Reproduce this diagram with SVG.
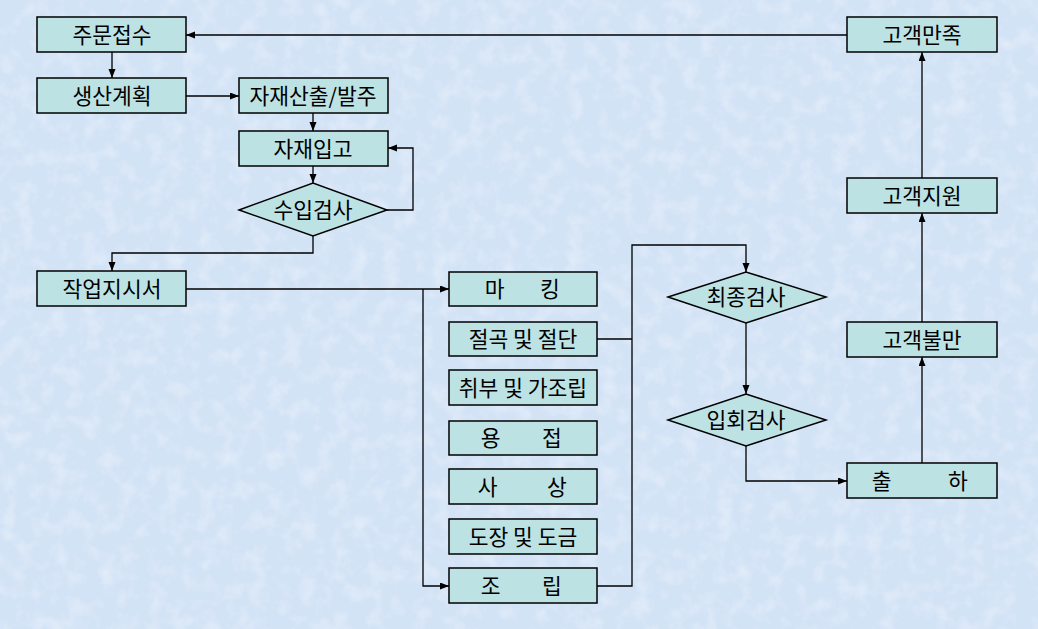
<svg xmlns="http://www.w3.org/2000/svg" width="1038" height="629" viewBox="0 0 1038 629">
<defs>
<style>
.bx{fill:#bce2e3;stroke:#000;stroke-width:1.5}
.t{font-family:"Noto Sans CJK KR","Noto Sans",sans-serif;font-size:21.5px;fill:#000;text-anchor:middle}
.c{fill:none;stroke:#000;stroke-width:1.3}
</style>
<marker id="ah" markerUnits="userSpaceOnUse" markerWidth="10" markerHeight="8" refX="9" refY="3.5" orient="auto">
<path d="M0,0 L9,3.5 L0,7 z" fill="#000"/>
</marker>
<filter id="tex" x="0" y="0" width="100%" height="100%">
<feTurbulence type="fractalNoise" baseFrequency="0.06" numOctaves="3" seed="4"/>
<feColorMatrix type="matrix" values="0 0 0 0 1  0 0 0 0 1  0 0 0 0 1  0 0 0 1.2 -0.55"/>
</filter>
</defs>
<rect width="1038" height="629" fill="#d3e3f6"/>
<rect width="1038" height="629" filter="url(#tex)" opacity="0.6"/>

<g id="connectors" class="c">
<path d="M847,35 H186" marker-end="url(#ah)"/>
<path d="M112,52 V78" marker-end="url(#ah)"/>
<path d="M186,96 H239" marker-end="url(#ah)"/>
<path d="M313,113 V131" marker-end="url(#ah)"/>
<path d="M313,166 V183" marker-end="url(#ah)"/>
<path d="M387,210 H413 V148 H388" marker-end="url(#ah)"/>
<path d="M313,236 V253 H112 V271" marker-end="url(#ah)"/>
<path d="M186,289 H449" marker-end="url(#ah)"/>
<path d="M423,289 V586 H449" marker-end="url(#ah)"/>
<path d="M597,339 H632"/>
<path d="M597,586 H632 V245 H746 V272" marker-end="url(#ah)"/>
<path d="M746,323 V394" marker-end="url(#ah)"/>
<path d="M746,446 V481 H847" marker-end="url(#ah)"/>
<path d="M922,463 V357" marker-end="url(#ah)"/>
<path d="M922,322 V213" marker-end="url(#ah)"/>
<path d="M922,178 V52" marker-end="url(#ah)"/>
</g>

<g id="n-order"><rect class="bx" x="37" y="17" width="149" height="35"/><text class="t" x="112" y="42.5">주문접수</text></g>
<g id="n-plan"><rect class="bx" x="37" y="78" width="149" height="35"/><text class="t" x="112" y="103.5">생산계획</text></g>
<g id="n-material"><rect class="bx" x="239" y="78" width="149" height="35"/><text class="t" x="313" y="103.5">자재산출/발주</text></g>
<g id="n-receive"><rect class="bx" x="239" y="131" width="149" height="35"/><text class="t" x="313" y="156.5">자재입고</text></g>
<g id="n-incoming"><path class="bx" d="M239,210 L313,183 L387,210 L313,236 Z"/><text class="t" x="313" y="217.5">수입검사</text></g>
<g id="n-workorder"><rect class="bx" x="37" y="271" width="149" height="35"/><text class="t" x="112" y="296.5">작업지시서</text></g>

<g id="n-marking"><rect class="bx" x="449" y="272" width="148" height="34"/><text class="t" y="296.5"><tspan x="497">마</tspan> <tspan x="550">킹</tspan></text></g>
<g id="n-bending"><rect class="bx" x="449" y="322" width="148" height="34"/><text class="t" x="523" y="346.5">절곡 및 절단</text></g>
<g id="n-fitup"><rect class="bx" x="449" y="370" width="148" height="35"/><text class="t" x="523" y="395.5">취부 및 가조립</text></g>
<g id="n-welding"><rect class="bx" x="449" y="421" width="148" height="34"/><text class="t" y="445.5"><tspan x="493">용</tspan> <tspan x="552">접</tspan></text></g>
<g id="n-finishing"><rect class="bx" x="449" y="469" width="148" height="35"/><text class="t" y="494.5"><tspan x="490">사</tspan> <tspan x="557">상</tspan></text></g>
<g id="n-painting"><rect class="bx" x="449" y="519" width="148" height="35"/><text class="t" x="523" y="544.5">도장 및 도금</text></g>
<g id="n-assembly"><rect class="bx" x="449" y="568" width="148" height="35"/><text class="t" y="593.5"><tspan x="493">조</tspan> <tspan x="552">립</tspan></text></g>

<g id="n-final"><path class="bx" d="M668,297 L746,272 L826,297 L746,323 Z"/><text class="t" x="746" y="304.5">최종검사</text></g>
<g id="n-witness"><path class="bx" d="M668,420 L746,394 L826,420 L746,446 Z"/><text class="t" x="746" y="427.5">입회검사</text></g>

<g id="n-satisfy"><rect class="bx" x="847" y="17" width="150" height="35"/><text class="t" x="922" y="42.5">고객만족</text></g>
<g id="n-support"><rect class="bx" x="847" y="178" width="150" height="35"/><text class="t" x="922" y="203.5">고객지원</text></g>
<g id="n-complaint"><rect class="bx" x="847" y="322" width="150" height="35"/><text class="t" x="922" y="347.5">고객불만</text></g>
<g id="n-shipping"><rect class="bx" x="847" y="463" width="150" height="35"/><text class="t" y="488.5"><tspan x="884">출</tspan> <tspan x="958">하</tspan></text></g>
</svg>
